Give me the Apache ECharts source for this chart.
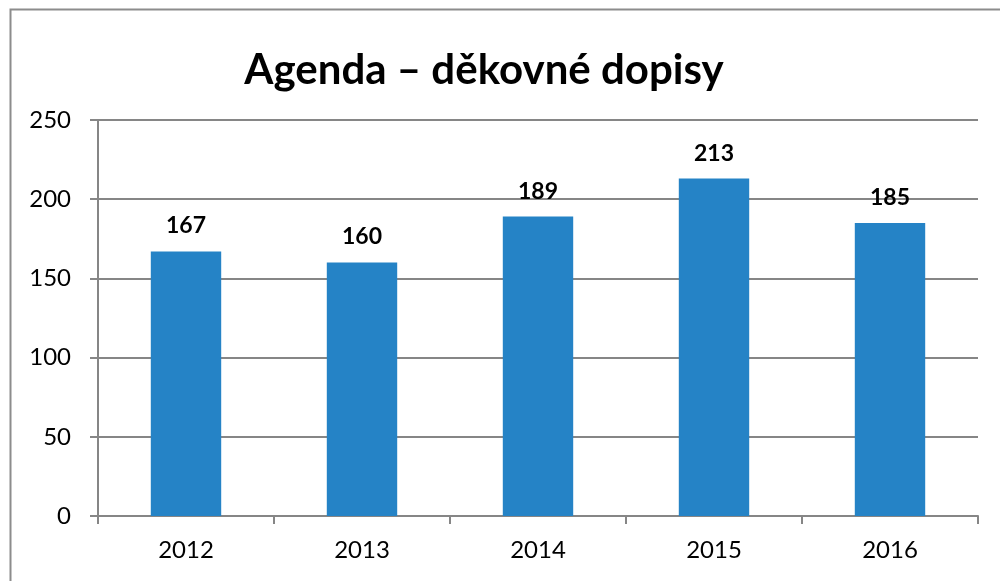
<!DOCTYPE html>
<html><head><meta charset="utf-8">
<script src="https://cdn.jsdelivr.net/npm/echarts@6/dist/echarts.min.js"></script>
<style>html,body{margin:0;padding:0;background:#fff}#c{width:1000px;height:581px}</style>
</head><body><div id="c"></div>
<script>
const titleText = 'Agenda – děkovné dopisy';
const categories = ['2012','2013','2014','2015','2016'];
const values = [167,160,189,213,185];
const yTicks = {min:0, max:250, interval:50};

const chart = echarts.init(document.getElementById('c'), null, {renderer:'canvas'});
const font = 'Lato, "Open Sans", sans-serif';
chart.setOption({
  animation:false,
  backgroundColor:'#fff',
  graphic:[{type:'rect', shape:{x:10.5,y:9.5,width:1100,height:700}, style:{fill:'none',stroke:'#8c8c8c',lineWidth:2}, silent:true}],
  title:{text:titleText, left:479, textAlign:'center', top:44,
    textStyle:{fontFamily:font, fontSize:42, fontWeight:'bold', color:'#000'}},
  grid:{left:98, right:22, top:120, bottom:65, containLabel:false},
  xAxis:{type:'category', data:categories,
    axisLine:{lineStyle:{color:'#868686', width:2}},
    axisTick:{show:true, length:8, alignWithLabel:false, lineStyle:{color:'#868686', width:2}},
    axisLabel:{fontFamily:font, fontSize:24, color:'#000', margin:22}},
  yAxis:{type:'value', min:yTicks.min, max:yTicks.max, interval:yTicks.interval,
    axisLine:{show:true, lineStyle:{color:'#868686', width:2}},
    axisTick:{show:true, length:8, lineStyle:{color:'#868686', width:2}},
    splitLine:{lineStyle:{color:'#868686', width:2}},
    axisLabel:{fontFamily:font, fontSize:24, color:'#000', margin:27}},
  series:[{type:'bar', data:values, barWidth:'40%',
    itemStyle:{color:'#2583C6'},
    label:{show:true, position:'top', distance:14, fontFamily:font, fontSize:23, fontWeight:'bold', color:'#000'}}]
});
</script></body></html>
